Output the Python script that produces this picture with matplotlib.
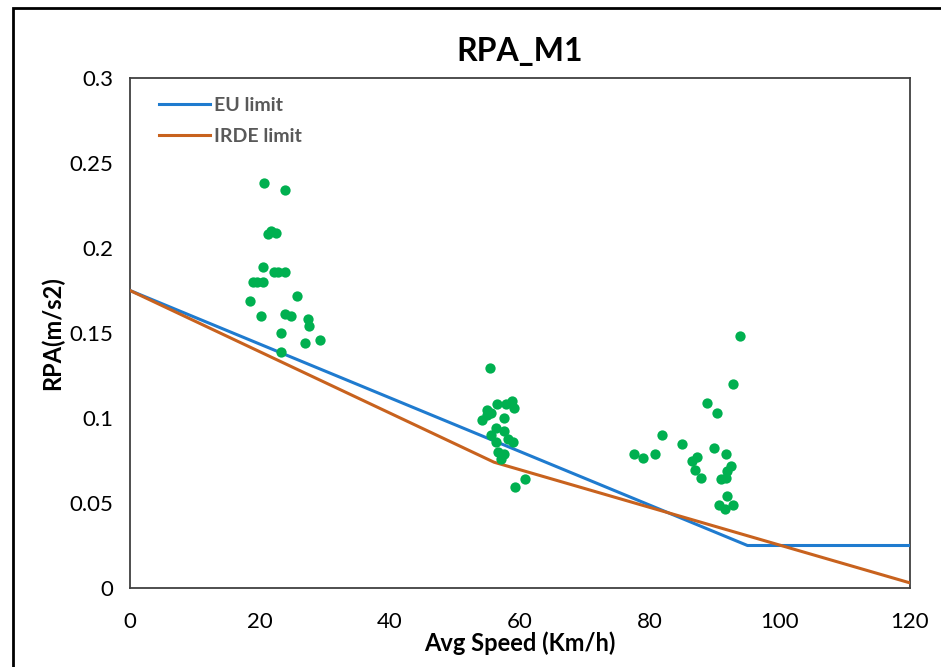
import matplotlib.pyplot as plt
from matplotlib.patches import Rectangle

# 限值曲线
eu_speed = [0, 95, 120]
eu_limit = [0.175, 0.025, 0.025]
irde_speed = [0, 56, 120]
irde_limit = [0.175, 0.074, 0.003]

# 测量点 (平均车速, RPA)
speed = [20.6, 23.8, 21.3, 21.7, 22.4, 20.4, 22.1, 22.8, 23.8, 18.9, 19.5, 20.5,
         18.5, 25.7, 20.1, 23.8, 24.8, 27.4, 27.6, 29.2, 23.2, 26.9, 23.2,
         55.4, 54.9, 54.1, 55.6, 56.5, 58.8, 59.1, 57.5, 56.3, 57.6, 55.6, 58.1,
         58.9, 56.3, 56.6, 57.6, 57.1, 60.7, 59.3, 55.0, 57.8,
         93.9, 92.8, 88.7, 90.3, 81.9, 84.9, 89.8, 91.7, 77.6, 78.9, 80.7, 87.3,
         86.5, 87.0, 87.9, 92.5, 91.8, 90.9, 91.7, 91.9, 90.6, 91.5, 92.8]
rpa = [0.238, 0.234, 0.2085, 0.210, 0.209, 0.189, 0.186, 0.186, 0.186, 0.180, 0.180, 0.180,
       0.169, 0.172, 0.160, 0.161, 0.160, 0.158, 0.154, 0.146, 0.150, 0.144, 0.139,
       0.1295, 0.105, 0.099, 0.103, 0.108, 0.110, 0.106, 0.100, 0.094, 0.0925, 0.090, 0.0876,
       0.0856, 0.086, 0.080, 0.079, 0.076, 0.064, 0.0595, 0.102, 0.108,
       0.148, 0.120, 0.109, 0.103, 0.090, 0.085, 0.0825, 0.079, 0.079, 0.0765, 0.079, 0.077,
       0.0745, 0.0695, 0.065, 0.0715, 0.069, 0.064, 0.065, 0.054, 0.049, 0.0465, 0.049]

plt.rcParams['font.family'] = ['Lato', 'DejaVu Sans']

fig = plt.figure(figsize=(9.41, 6.67), dpi=100)
ax = fig.add_axes([130 / 941, 1 - 588 / 667, 780 / 941, 510 / 667])

ax.plot(eu_speed, eu_limit, color='#1F7BCF', lw=2.2, label='EU limit', zorder=3)
ax.plot(irde_speed, irde_limit, color='#C8621E', lw=2.2, label='IRDE limit', zorder=3)
ax.scatter(speed, rpa, s=55, color='#00B050', zorder=4, linewidths=0)

ax.set_xlim(0, 120)
ax.set_ylim(0, 0.3)
ax.set_xticks([0, 20, 40, 60, 80, 100, 120])
ax.set_yticks([0, 0.05, 0.1, 0.15, 0.2, 0.25, 0.3])
ax.set_yticklabels(['0', '0.05', '0.1', '0.15', '0.2', '0.25', '0.3'])
ax.tick_params(length=0, labelsize=16, colors='black', pad=12)
ax.tick_params(axis='x', pad=17)
for s in ax.spines.values():
    s.set_color('#404040')
    s.set_linewidth(1.3)

ax.set_title('RPA_M1', fontsize=23, fontweight='bold', pad=12)
ax.set_xlabel('Avg Speed (Km/h)', fontsize=17, fontweight='bold', labelpad=0)
ax.set_ylabel('RPA(m/s2)', fontsize=17, fontweight='bold', labelpad=4)

leg = ax.legend(loc='upper left', bbox_to_anchor=(0.02, 0.99), frameon=False,
                fontsize=14, handlelength=2.6, handletextpad=0.2,
                borderaxespad=0.3, labelspacing=0.75)
for t in leg.get_texts():
    t.set_color('#595959')
    t.set_fontweight('bold')

# 外框
fig.patches.append(Rectangle((13 / 941, -0.05), 1.0, 0.05 + 1 - 8 / 667,
                             transform=fig.transFigure, fill=False,
                             edgecolor='black', lw=2))

fig.savefig('out.png', dpi=100)
